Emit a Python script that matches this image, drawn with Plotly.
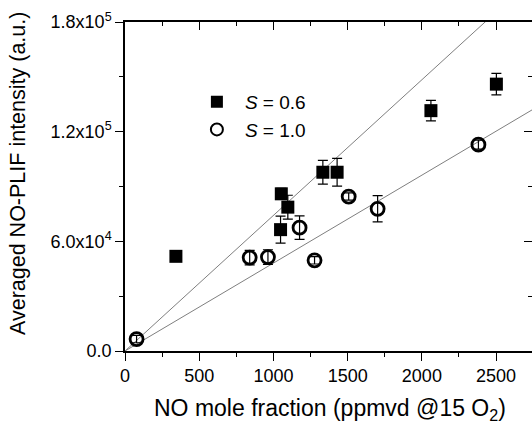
import plotly.graph_objects as go

# S = 0.6 (filled squares)
s06_x = [343, 1048, 1053, 1097, 1333, 1429, 2061, 2502]
s06_y = [51800, 66400, 86000, 78700, 97800, 97800, 131500, 146000]
s06_err = [1500, 7400, 3000, 6500, 6500, 7600, 5600, 5900]

# S = 1.0 (open circles)
s10_x = [78, 840, 963, 1176, 1277, 1507, 1702, 2381]
s10_y = [6500, 51100, 51400, 67500, 49600, 84500, 77800, 112900]
s10_err = [2000, 4000, 4000, 6400, 2000, 2000, 7200, 2500]

# linear fits through origin (slopes, a.u. per ppmvd)
fit_slopes = [74.2, 48.1]

x_range = [0, 2742]
y_range = [0, 180000]
y_tickvals = [0, 60000, 120000, 180000]
y_ticktext = ["0.0", "6.0x10<sup>4</sup>", "1.2x10<sup>5</sup>", "1.8x10<sup>5</sup>"]
y_minor = [30000, 90000, 150000]

x_title = "NO mole fraction (ppmvd @15 O<sub>2</sub>)"
y_title = "Averaged NO-PLIF intensity (a.u.)"

FONT = "Arial, Liberation Sans, sans-serif"

fig = go.Figure()

for k in fit_slopes:
    fig.add_trace(go.Scatter(
        x=x_range, y=[k * v for v in x_range], mode="lines",
        line=dict(color="#7f7f7f", width=1), showlegend=False, hoverinfo="skip"))

fig.add_trace(go.Scatter(
    x=s06_x, y=s06_y, mode="markers", name="<i>S</i> = 0.6",
    marker=dict(symbol="square", size=13, color="black", line=dict(width=0)),
    error_y=dict(type="data", array=s06_err, color="black", thickness=1.2, width=5)))

fig.add_trace(go.Scatter(
    x=s10_x, y=s10_y, mode="markers", name="<i>S</i> = 1.0",
    marker=dict(symbol="circle-open", size=13, color="black", line=dict(width=2.8, color="black")),
    error_y=dict(type="data", array=s10_err, color="black", thickness=1.2, width=5)))

# invisible trace to activate the mirrored axes
fig.add_trace(go.Scatter(x=[None], y=[None], xaxis="x2", yaxis="y2", showlegend=False))

axis_common = dict(showgrid=False, zeroline=False, linecolor="black", linewidth=1.5,
                   tickcolor="black", tickwidth=1.2)

fig.update_layout(
    width=532, height=423,
    margin=dict(l=125, r=0, t=22, b=72),
    paper_bgcolor="white", plot_bgcolor="white",
    font=dict(family=FONT, size=18, color="black"),
    xaxis=dict(range=x_range, dtick=500, tick0=0, ticks="outside", ticklen=8,
               showline=True,
               minor=dict(ticks="outside", ticklen=4, dtick=250, tick0=0, tickcolor="black", tickwidth=1.2),
               tickfont=dict(size=18), **axis_common),
    yaxis=dict(range=y_range, tickmode="array", tickvals=y_tickvals, ticktext=y_ticktext,
               ticks="outside", ticklen=8, showline=True,
               minor=dict(ticks="outside", ticklen=4, tickvals=y_minor, tickcolor="black", tickwidth=1.2),
               tickfont=dict(size=18), **axis_common),
    xaxis2=dict(range=x_range, overlaying="x", side="top", dtick=500, tick0=0,
                ticks="inside", ticklen=8, showticklabels=False, showline=True,
                minor=dict(ticks="inside", ticklen=4, dtick=250, tick0=0, tickcolor="black", tickwidth=1.2),
                **axis_common),
    yaxis2=dict(range=y_range, overlaying="y", side="right", tickmode="array",
                tickvals=y_tickvals, ticks="inside", ticklen=8, showticklabels=False,
                minor=dict(ticks="inside", ticklen=4, tickvals=y_minor, tickcolor="black", tickwidth=1.2),
                showgrid=False, zeroline=False, showline=False, tickcolor="black", tickwidth=1.2),
    legend=dict(x=0.157, y=0.815, xanchor="left", yanchor="top", bgcolor="rgba(0,0,0,0)",
                font=dict(size=19), tracegroupgap=0, itemsizing="constant", itemwidth=46),
    showlegend=True,
    annotations=[
        dict(text=x_title, xref="paper", yref="paper", x=0.503, y=-0.179,
             xanchor="center", yanchor="middle", showarrow=False, font=dict(size=23)),
        dict(text=y_title, xref="paper", yref="paper", x=-(125 - 18) / 407, y=0.538,
             xanchor="center", yanchor="middle", textangle=-90, showarrow=False,
             font=dict(size=21.5)),
    ],
)

fig.write_html("out.html")
